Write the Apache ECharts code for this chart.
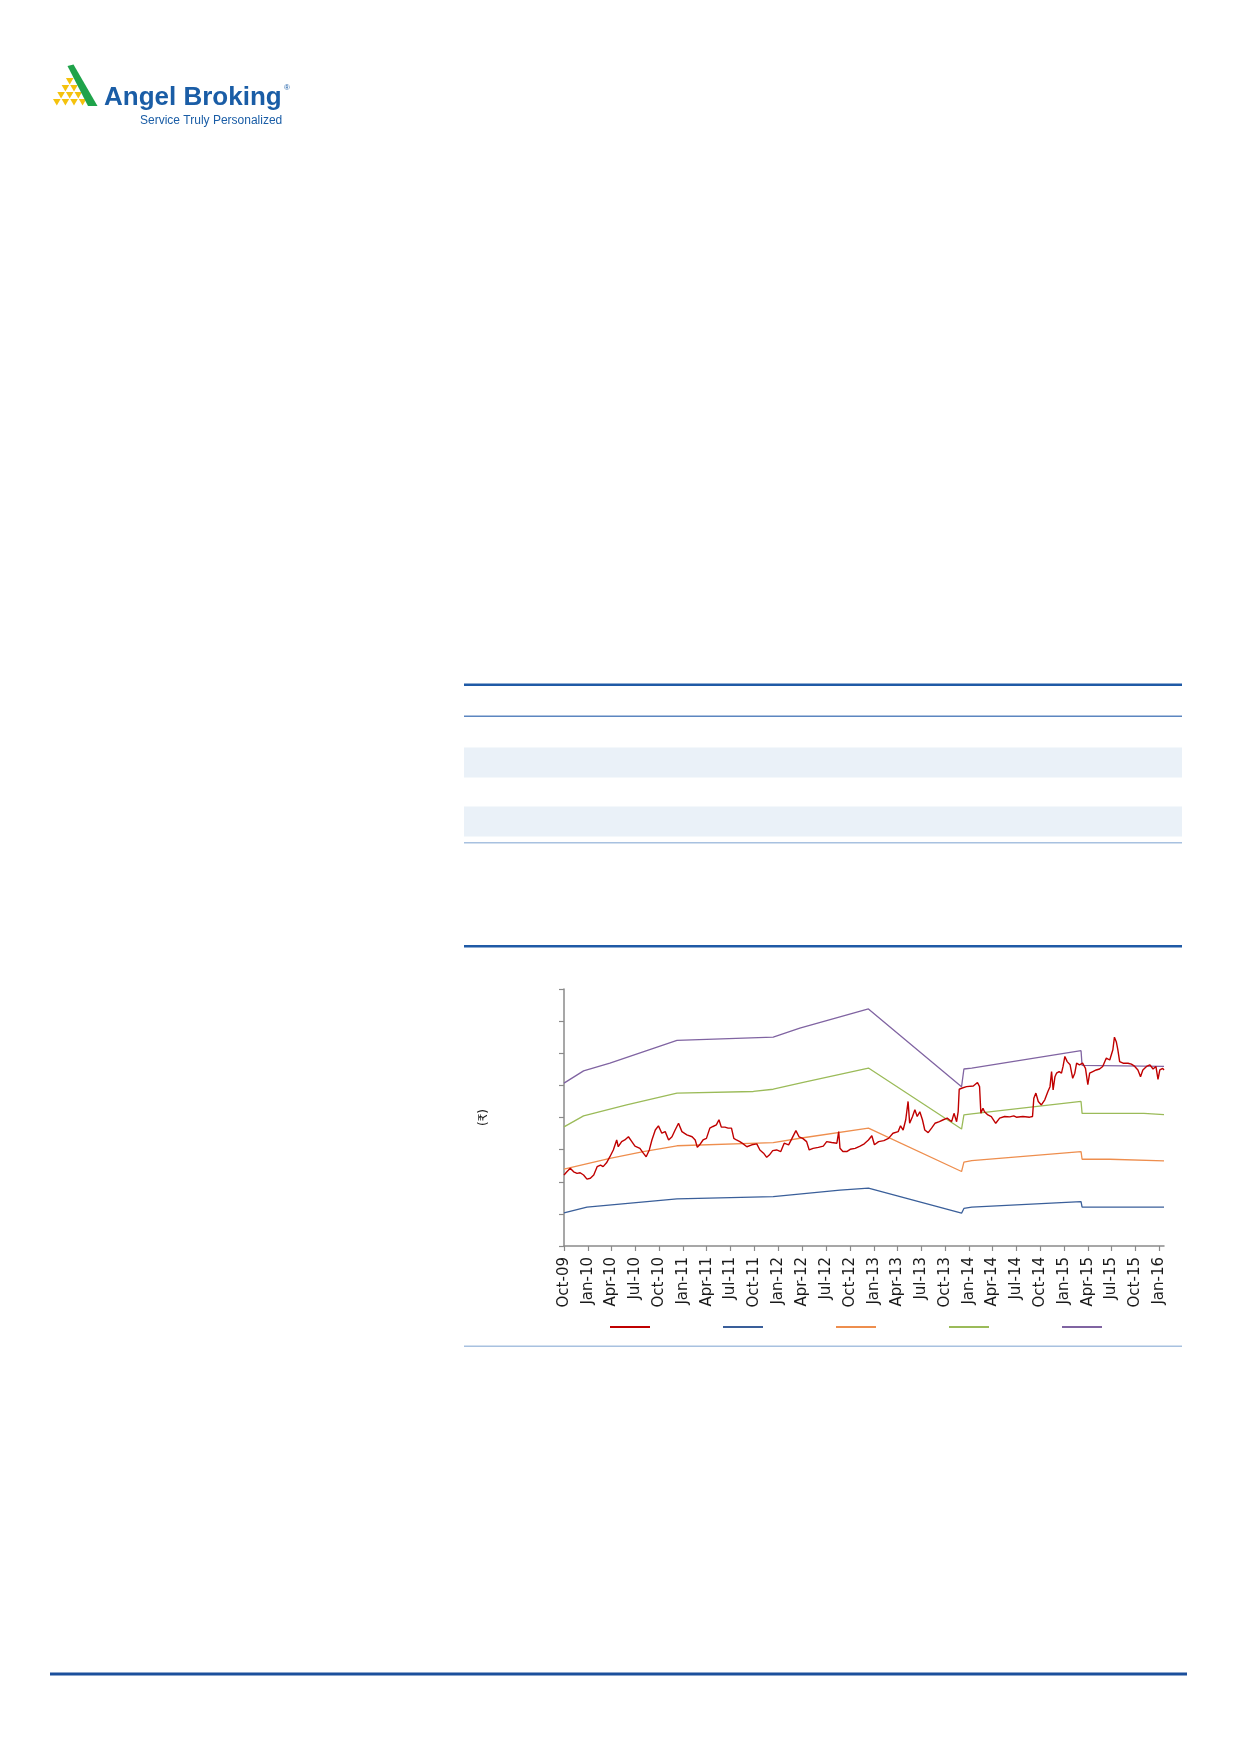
<!DOCTYPE html>
<html>
<head>
<meta charset="utf-8">
<script src="https://cdn.jsdelivr.net/npm/echarts@6/dist/echarts.min.js"></script>
<style>
  html, body { margin: 0; padding: 0; background: #ffffff; }
  #page { width: 1240px; height: 1754px; }
</style>
</head>
<body>
<div id="page"></div>
<script>
// ---------- DATA ----------
const tickLabels = ['Oct-09','Jan-10','Apr-10','Jul-10','Oct-10','Jan-11','Apr-11','Jul-11','Oct-11',
  'Jan-12','Apr-12','Jul-12','Oct-12','Jan-13','Apr-13','Jul-13','Oct-13','Jan-14','Apr-14','Jul-14',
  'Oct-14','Jan-15','Apr-15','Jul-15','Oct-15','Jan-16'];

const seriesNames = ['Price', 'Band 1', 'Band 2', 'Band 3', 'Band 4'];

const priceDates = ['2009-10-01','2009-10-12','2009-10-25','2009-11-07','2009-11-20','2009-12-02','2009-12-15','2009-12-28',
  '2010-01-10','2010-01-23','2010-02-05','2010-02-18','2010-02-28','2010-03-13','2010-03-26','2010-04-08','2010-04-21','2010-04-27',
  '2010-05-10','2010-05-22','2010-06-05','2010-06-18','2010-06-30','2010-07-19','2010-08-01','2010-08-12','2010-08-24','2010-09-03',
  '2010-09-16','2010-09-28','2010-10-11','2010-10-24','2010-11-06','2010-11-19','2010-12-01','2010-12-14','2010-12-27','2011-01-15',
  '2011-02-04','2011-02-16','2011-02-24','2011-03-05','2011-03-18','2011-03-31','2011-04-13','2011-04-25','2011-05-08','2011-05-18',
  '2011-05-27','2011-06-10','2011-06-22','2011-07-05','2011-07-14','2011-07-24','2011-08-06','2011-08-19','2011-09-02','2011-09-21',
  '2011-10-10','2011-10-22','2011-11-05','2011-11-17','2011-11-27','2011-12-10','2011-12-25','2012-01-10','2012-01-23','2012-02-09',
  '2012-02-22','2012-03-08','2012-03-20','2012-04-03','2012-04-18','2012-04-28','2012-05-13','2012-06-02','2012-06-21','2012-07-04',
  '2012-07-23','2012-08-12','2012-08-19','2012-08-24','2012-09-04','2012-09-19','2012-10-02','2012-10-21','2012-11-09','2012-11-25',
  '2012-12-11','2012-12-24','2013-01-03','2013-01-19','2013-02-08','2013-02-26','2013-03-15','2013-04-04','2013-04-13','2013-04-23',
  '2013-05-03','2013-05-12','2013-05-18','2013-05-29','2013-06-07','2013-06-16','2013-06-26','2013-07-06','2013-07-15','2013-07-28',
  '2013-08-10','2013-08-23','2013-09-09','2013-09-24','2013-10-09','2013-10-26','2013-11-04','2013-11-14','2013-11-20','2013-11-24',
  '2013-12-03','2013-12-22','2014-01-17','2014-02-02','2014-02-10','2014-02-15','2014-02-23','2014-03-01','2014-03-14','2014-03-27',
  '2014-04-13','2014-04-28','2014-05-17','2014-06-06','2014-06-21','2014-07-01','2014-07-26','2014-08-21','2014-09-01','2014-09-06',
  '2014-09-14','2014-09-23','2014-10-05','2014-10-18','2014-10-30','2014-11-07','2014-11-13','2014-11-19','2014-11-26','2014-12-02',
  '2014-12-12','2014-12-21','2014-12-27','2015-01-03','2015-01-12','2015-01-23','2015-02-02','2015-02-10','2015-02-17','2015-02-28',
  '2015-03-06','2015-03-12','2015-03-23','2015-04-01','2015-04-08','2015-04-20','2015-05-03','2015-05-16','2015-05-28','2015-06-11',
  '2015-06-24','2015-07-06','2015-07-12','2015-07-19','2015-07-25','2015-08-01','2015-08-14','2015-09-02','2015-09-15','2015-09-28',
  '2015-10-10','2015-10-20','2015-10-29','2015-11-12','2015-11-25','2015-12-07','2015-12-18','2015-12-26','2016-01-02','2016-01-13',
  '2016-01-18'];
const priceValues = [221,231,242,231,226,228,221,208,
  211,221,247,252,247,259,278,299,330,309,
  325,330,340,325,311,304,289,278,299,330,
  361,374,351,356,330,340,361,382,356,346,
  340,330,307,315,330,335,367,372,377,393,
  370,370,367,367,335,330,325,318,309,315,
  318,299,289,276,283,297,299,294,320,315,
  335,359,340,335,325,299,304,307,311,325,
  322,320,356,304,294,294,301,304,311,318,
  330,343,315,325,328,335,351,356,374,361,
  393,450,382,403,424,403,418,393,361,353,
  367,382,387,393,398,387,413,387,418,488,
  491,496,498,509,496,413,429,418,408,403,
  382,398,403,402,405,401,403,401,403,460,
  476,450,439,455,481,496,543,486,527,538,
  543,538,559,590,574,564,522,538,569,564,
  559,569,553,502,538,543,548,551,559,585,
  579,611,650,636,611,574,569,569,566,559,
  548,527,548,559,564,551,559,519,548,553,
  548];

const band1Dates = ['2009-10-01','2009-12-28','2010-12-08','2011-12-12','2012-08-24','2012-12-11','2013-12-03','2013-12-12','2014-01-11','2015-03-06','2015-03-10','2016-01-18'];
const band1Values = [103,121,147,154,174,180,102,117,121,138,121,121];

const band2Dates = ['2009-10-01','2010-03-26','2010-08-01','2010-12-08','2011-12-12','2012-04-05','2012-12-11','2013-12-03','2013-12-12','2014-01-11','2015-03-06','2015-03-10','2015-06-24','2015-06-27','2016-01-18'];
const band2Values = [239,273,294,312,322,337,367,232,261,266,294,270,270,265,265];

const band3Dates = ['2009-10-01','2009-12-15','2010-05-29','2010-12-08','2011-09-27','2011-12-12','2012-04-05','2012-12-11','2013-12-03','2013-12-12','2014-01-11','2015-03-06','2015-03-10','2015-11-02','2015-11-05','2016-01-18'];
const band3Values = [371,405,439,476,481,488,509,554,364,408,411,450,413,413,409,409];

const band4Dates = ['2009-10-01','2009-12-15','2010-03-26','2010-12-08','2011-12-12','2012-03-23','2012-12-11','2013-12-03','2013-12-12','2014-01-11','2015-03-06','2015-03-10','2016-01-18'];
const band4Values = [507,545,569,640,650,678,738,496,551,554,608,562,559];

const axisStartDate = '2009-10-01';
const axisEndDate = '2016-01-18';

const seriesColors = ['#C00000', '#3A5F9A', '#EE8E4E', '#9BBB59', '#8064A2'];

// ---------- BUILD ----------
function toTime(s) { const p = s.split('-').map(Number); return new Date(p[0], p[1] - 1, p[2]).getTime(); }
const tickTimes = tickLabels.map((_, i) => new Date(2009, 9 + 3 * i, 1).getTime());
const labelByTime = {};
tickTimes.forEach((t, i) => { labelByTime[t] = tickLabels[i]; });

function pairs(dates, values) { return dates.map((d, i) => [toTime(d), values[i]]); }

const lineSeries = [
  pairs(priceDates, priceValues),
  pairs(band1Dates, band1Values),
  pairs(band2Dates, band2Values),
  pairs(band3Dates, band3Values),
  pairs(band4Dates, band4Values)
].map((data, i) => ({
  name: seriesNames[i],
  type: 'line',
  data: data,
  showSymbol: false,
  symbol: 'none',
  lineStyle: { color: seriesColors[i], width: i === 0 ? 1.4 : 1.3 },
  itemStyle: { color: seriesColors[i] },
  z: i === 0 ? 5 : 3,
  animation: false
}));

const BLUE = '#1F5AA6';
const TW = 8.6;
const pageGraphics = [
  ...[[65.4,78,1],[61.1,85,2],[56.8,92,3],[52.5,99,4]].flatMap(([x0, y0, n]) =>
    Array.from({length: n}, (_, k) => ({
      type: 'polygon',
      shape: { points: [[x0 + TW * k + 0.5, y0], [x0 + TW * k + TW - 0.5, y0], [x0 + TW * k + TW / 2, y0 + 6.5]] },
      style: { fill: '#F4C20D' }
    }))),
  { type: 'polygon', shape: { points: [[67.5, 66], [73.5, 64.5], [97.5, 106], [88, 106]] }, style: { fill: '#1FA34A' } },
  { type: 'text', style: { text: 'Angel Broking', x: 104, y: 97.5, verticalAlign: 'middle', font: 'bold 26px "Liberation Sans", Arial, sans-serif', fill: '#1A5DA6' } },
  { type: 'text', style: { text: '®', x: 284, y: 88, verticalAlign: 'middle', font: '8px "Liberation Sans", Arial, sans-serif', fill: '#1A5DA6' } },
  { type: 'text', style: { text: 'Service Truly Personalized', x: 140, y: 120.5, verticalAlign: 'middle', font: '12px "Liberation Sans", Arial, sans-serif', fill: '#1A5DA6' } },
  { type: 'rect', shape: { x: 464, y: 683.5, width: 718, height: 2.5 }, style: { fill: BLUE } },
  { type: 'rect', shape: { x: 464, y: 715.5, width: 718, height: 1.5 }, style: { fill: '#5C86C0' } },
  { type: 'rect', shape: { x: 464, y: 747.5, width: 718, height: 30 }, style: { fill: '#EAF1F8' } },
  { type: 'rect', shape: { x: 464, y: 806.5, width: 718, height: 30 }, style: { fill: '#EAF1F8' } },
  { type: 'rect', shape: { x: 464, y: 842, width: 718, height: 1.5 }, style: { fill: '#A8C1E0' } },
  { type: 'rect', shape: { x: 464, y: 945, width: 718, height: 2.5 }, style: { fill: BLUE } },
  { type: 'rect', shape: { x: 464, y: 1345.5, width: 718, height: 1.5 }, style: { fill: '#A8C1E0' } },
  { type: 'rect', shape: { x: 50, y: 1672.5, width: 1137, height: 3 }, style: { fill: '#1B4F9C' } }
];

const axisGray = '#8A8A8A';
const option = {
  animation: false,
  backgroundColor: '#ffffff',
  graphic: { elements: pageGraphics },
  grid: { left: 564, top: 989, width: 600, height: 257, containLabel: false },
  legend: {
    left: 605, top: 1321,
    icon: 'rect', itemWidth: 40, itemHeight: 2, itemGap: 73,
    data: seriesNames,
    formatter: () => '',
    textStyle: { fontSize: 12 },
    selectedMode: false
  },
  xAxis: {
    type: 'value',
    min: toTime(axisStartDate),
    max: toTime(axisEndDate),
    splitLine: { show: false },
    axisLine: { show: true, onZero: false, lineStyle: { color: axisGray, width: 1.5 } },
    axisTick: { show: true, length: 5, lineStyle: { color: axisGray, width: 1.2 }, customValues: tickTimes },
    axisLabel: {
      customValues: tickTimes,
      rotate: 90, margin: 11,
      fontSize: 15, fontFamily: '"DejaVu Sans", sans-serif', color: '#1a1a1a',
      formatter: (v) => labelByTime[v] || ''
    }
  },
  yAxis: {
    type: 'value', min: 0, max: 800, interval: 100,
    name: '(₹)', nameLocation: 'middle', nameRotate: 90, nameGap: 74,
    nameTextStyle: { fontSize: 12, fontFamily: '"DejaVu Sans", sans-serif', color: '#1a1a1a' },
    splitLine: { show: false },
    axisLine: { show: true, onZero: false, lineStyle: { color: axisGray, width: 1.5 } },
    axisTick: { show: true, length: 5, lineStyle: { color: axisGray, width: 1.2 } },
    axisLabel: { show: false }
  },
  series: lineSeries
};

const chart = echarts.init(document.getElementById('page'), null, { renderer: 'canvas', width: 1240, height: 1754 });
chart.setOption(option);
</script>
</body>
</html>
